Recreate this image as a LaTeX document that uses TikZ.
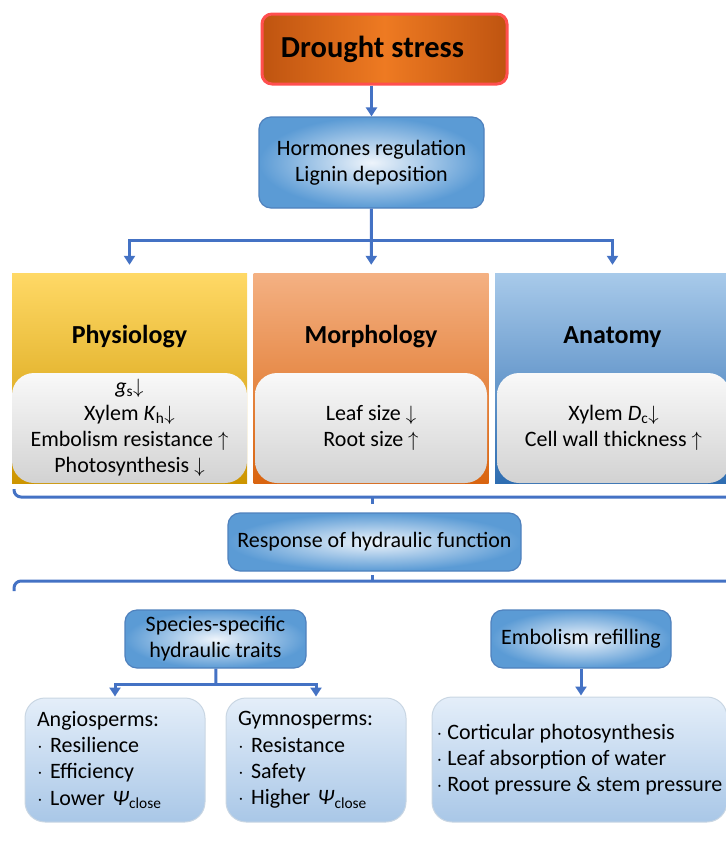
\documentclass[tikz,border=0pt]{standalone}
\usepackage{fontspec}
\setmainfont{Carlito}
\usetikzlibrary{arrows.meta}

\definecolor{linkblue}{HTML}{4472C4}
\definecolor{boxline}{HTML}{4F81BD}
\definecolor{blueIn}{HTML}{EEF4FB}
\definecolor{blueOut}{HTML}{5B9BD5}
\definecolor{paleTop}{HTML}{E4EEF9}
\definecolor{paleBot}{HTML}{A9C7E7}
\definecolor{paleLine}{HTML}{C9D6E3}
\definecolor{drEdge}{HTML}{BF5410}
\definecolor{drMid}{HTML}{EE7A22}
\definecolor{drLine}{HTML}{FF4F4F}
\definecolor{grayTop}{HTML}{F9F9F9}
\definecolor{grayBot}{HTML}{D2D2D2}
\definecolor{physTop}{HTML}{FFD966}
\definecolor{physBot}{HTML}{CD9500}
\definecolor{morphTop}{HTML}{F4B183}
\definecolor{morphBot}{HTML}{D9640F}
\definecolor{anatTop}{HTML}{A8CAEA}
\definecolor{anatBot}{HTML}{2E6DB1}

\newcommand{\normtext}{\fontsize{22}{26.3}\selectfont}
\newcommand{\headtext}{\fontsize{26}{30}\selectfont\bfseries}
\newcommand{\titletext}{\fontsize{30.5}{34}\selectfont\bfseries}

\tikzset{
  conn/.style={linkblue, line width=3pt, -{Triangle[length=9pt,width=11pt]}},
  bar/.style={linkblue, line width=3pt},
  bluebox/.style={draw=boxline, line width=1.2pt, rounded corners=12pt,
    inner color=blueIn, outer color=blueOut, align=center, font=\normtext, inner sep=0pt},
  palebox/.style={draw=paleLine, line width=1pt, rounded corners=20pt,
    top color=paleTop, bottom color=paleBot, font=\normtext, inner ysep=0pt},
  panel/.style={minimum width=235pt, minimum height=210pt, inner sep=0pt},
  graybox/.style={rounded corners=22pt, top color=grayTop, bottom color=grayBot,
    minimum height=110pt, inner sep=0pt, align=center, font=\normtext},
}

\begin{document}
\begin{tikzpicture}[x=1pt, y=-1pt]
\useasboundingbox (0,0) rectangle (726,852);

\node[draw=drLine, line width=3pt, rounded corners=10pt, left color=drEdge, right color=drEdge,
  middle color=drMid, minimum width=245pt, minimum height=70pt, font=\titletext]
  (drought) at (384.5,49) {Drought stress\kern24pt};
\node[bluebox, minimum width=225pt, minimum height=91pt] (hormones) at (371.5,162.5)
  {Hormones regulation\\Lignin deposition};

% three columns
\foreach \nm/\x/\tc/\bc/\lab in {phys/129.5/physTop/physBot/Physiology,
    morph/371/morphTop/morphBot/Morphology, anat/612.5/anatTop/anatBot/Anatomy}{
  \node[panel, top color=\tc, bottom color=\bc] (\nm) at (\x,378) {};
  \node[font=\headtext] (\nm head) at (\x,337) {\lab};
}
\node[graybox, minimum width=235pt] (physlist) at (129.5,428)
  {\textit{g}\textsubscript{s}$\downarrow$\\
   Xylem \textit{K}\textsubscript{h}$\downarrow$\\
   Embolism resistance $\uparrow$\\
   Photosynthesis $\downarrow$};
\node[graybox, minimum width=232pt] (morphlist) at (371,428)
  {Leaf size $\downarrow$\\Root size $\uparrow$};
\node[graybox, minimum width=233pt] (anatlist) at (613.5,428)
  {Xylem \textit{D}\textsubscript{c}$\downarrow$\\Cell wall thickness $\uparrow$};

\draw[conn] (hormones |- drought.south) -- (hormones);
\coordinate (split) at (372,240);
\draw[conn, shorten >=8pt] (hormones) -- (morph);
\draw[conn, shorten >=8pt] (split) -| (phys);
\draw[conn, shorten >=8pt] (split) -| (anat);

% brackets round the response
\coordinate (topL) at (14,489);
\coordinate (topR) at (730,497);
\coordinate (topM) at (372,504);
\draw[bar, rounded corners=7pt] (topL) |- (topR);
\draw[bar] (topM) -- (topM |- topR);

\node[bluebox, minimum width=293pt, minimum height=58pt] (response) at (374.5,542)
  {Response of hydraulic function};

\coordinate (botL) at (14,591);
\coordinate (botR) at (730,581);
\coordinate (botM) at (372,575);
\draw[bar, rounded corners=7pt] (botL) |- (botR);
\draw[bar] (botM) -- (botM |- botR);

\node[bluebox, minimum width=181pt, minimum height=58pt] (species) at (215.5,639)
  {Species-specific\\hydraulic traits};
\node[bluebox, minimum width=180pt, minimum height=58pt] (refill) at (581,639)
  {Embolism refilling};

\node[palebox, text width=156pt, align=left, inner xsep=12pt, minimum height=124pt]
  (angio) at (115,760)
  {Angiosperms:\\$\cdot$ Resilience\\$\cdot$ Efficiency\\$\cdot$ Lower \textit{Ψ}\textsubscript{close}};
\node[palebox, text width=156pt, align=left, inner xsep=12pt, minimum height=124pt]
  (gymno) at (316,760)
  {Gymnosperms:\\$\cdot$ Resistance\\$\cdot$ Safety\\$\cdot$ Higher \textit{Ψ}\textsubscript{close}};
\node[palebox, align=left, inner xsep=3pt, minimum width=295pt, minimum height=125pt]
  (reflist) at (579.5,759.5)
  {$\cdot$ Corticular photosynthesis\\$\cdot$ Leaf absorption of water\\$\cdot$ Root pressure \& stem pressure};

\coordinate (fork) at (216,684);
\draw[bar] (species) -- (fork);
\draw[conn, shorten >=1pt] (fork) -| (angio);
\draw[conn, shorten >=1pt] (fork) -| (gymno);
\draw[conn, shorten >=1pt] (refill) -- (refill |- reflist.north);
\end{tikzpicture}
\end{document}
